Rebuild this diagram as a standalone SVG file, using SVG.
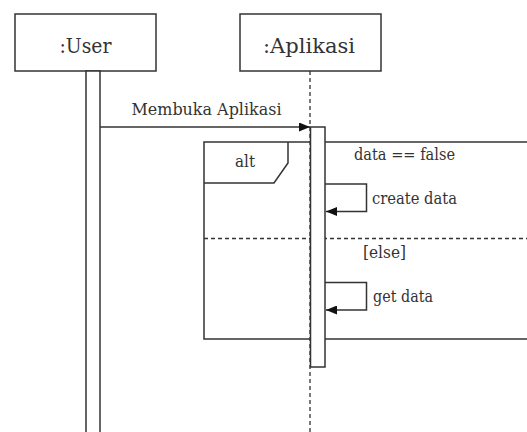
<svg xmlns="http://www.w3.org/2000/svg" width="527" height="432" viewBox="0 0 527 432">
  <style>
    .box { fill: #ffffff; stroke: #333333; stroke-width: 1.5; }
    .line { fill: none; stroke: #333333; stroke-width: 1.5; }
    .dash { fill: none; stroke: #333333; stroke-width: 1.3; stroke-dasharray: 4 3; }
    text { font-family: 'DejaVu Serif', 'Liberation Serif', serif; fill: #333333; }
    .big { font-size: 21px; }
    .small { font-size: 16.5px; }
  </style>
  <defs>
    <marker id="arrow" viewBox="0 0 11 9" refX="11" refY="4.5" markerWidth="11" markerHeight="9" markerUnits="userSpaceOnUse" orient="auto">
      <path d="M0,0 L11,4.5 L0,9 Z" fill="#111111"/>
    </marker>
  </defs>
  <rect width="527" height="432" fill="#ffffff"/>

  <!-- lifelines -->
  <g id="lifelines">
    <line class="dash" x1="310" y1="71" x2="310" y2="432"/>
  </g>

  <!-- participant: User, with its activation bar running to the bottom -->
  <g id="user">
    <rect class="box" x="15" y="14" width="141" height="57"/>
    <text class="big" x="85.5" y="53" text-anchor="middle" textLength="52" lengthAdjust="spacingAndGlyphs">:User</text>
    <rect class="box" x="86" y="71" width="14" height="365"/>
  </g>

  <!-- participant: Aplikasi -->
  <g id="aplikasi">
    <rect class="box" x="240" y="14" width="141" height="57"/>
    <text class="big" x="309" y="53" text-anchor="middle" textLength="92" lengthAdjust="spacingAndGlyphs">:Aplikasi</text>
  </g>

  <!-- alt combined fragment -->
  <g id="alt-fragment">
    <rect class="line" x="204" y="142" width="330" height="197"/>
    <path class="line" d="M204,183 L274,183 L288,163 L288,142"/>
    <text class="small" x="245" y="167" text-anchor="middle" textLength="20" lengthAdjust="spacingAndGlyphs">alt</text>
    <line class="dash" x1="204" y1="238.5" x2="527" y2="238.5"/>
    <text class="small" x="354" y="160" textLength="101" lengthAdjust="spacingAndGlyphs">data == false</text>
    <text class="small" x="363" y="258" textLength="43" lengthAdjust="spacingAndGlyphs">[else]</text>
  </g>

  <!-- activation bar on Aplikasi -->
  <g id="aplikasi-activation">
    <rect class="box" x="310.5" y="127" width="14.5" height="240"/>
  </g>

  <!-- messages -->
  <g id="connectors">
    <line class="line" x1="100" y1="127" x2="310" y2="127" marker-end="url(#arrow)"/>
    <text class="small" x="131.5" y="115" textLength="150" lengthAdjust="spacingAndGlyphs">Membuka Aplikasi</text>

    <path class="line" d="M325,184 L366.5,184 L366.5,211.5 L326,211.5" marker-end="url(#arrow)"/>
    <text class="small" x="372" y="204" textLength="85" lengthAdjust="spacingAndGlyphs">create data</text>

    <path class="line" d="M325,282.5 L366.5,282.5 L366.5,310 L326,310" marker-end="url(#arrow)"/>
    <text class="small" x="373" y="302" textLength="60" lengthAdjust="spacingAndGlyphs">get data</text>
  </g>
</svg>
